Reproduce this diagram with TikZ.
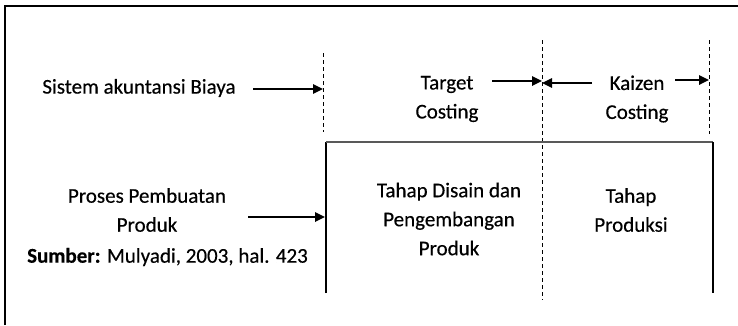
\documentclass[tikz,border=0pt]{standalone}
\usepackage{fontspec}
\setmainfont{Carlito}[FakeBold=0.35, BoldFeatures={FakeBold=0.35}]
\usetikzlibrary{arrows.meta}
\tikzset{
  lbl/.style={align=center, inner sep=0pt, font=\fontsize{21}{29}\selectfont},
  arr/.style={line width=1.7pt, -{Triangle[length=10pt,width=9.5pt]}},
  divider/.style={line width=0.9pt, dash pattern=on 4pt off 3pt},
  stage/.style={line width=1.2pt},
  frame/.style={line width=2.4pt}
}
\begin{document}
\begin{tikzpicture}[x=1pt,y=-1pt]
\useasboundingbox (0,0) rectangle (738,325);
% outer frame (top and left edges)
\draw[frame] (5,325) -- (5,6) -- (738,6);
% phase dividers
\coordinate (d1t) at (323,53);  \coordinate (d1b) at (323,132);
\coordinate (d2t) at (542,40);  \coordinate (d2b) at (542,300);
\coordinate (d3t) at (709,40);  \coordinate (d3b) at (709,134);
\draw[divider] (d1t) -- (d1b);
\draw[divider] (d2t) -- (d2b);
\draw[divider] (d3t) -- (d3b);
% stage box, open at the bottom
\coordinate (bl) at (326,293); \coordinate (tl) at (326,142);
\coordinate (tr) at (713,142); \coordinate (br) at (713,293);
\draw[stage] (bl) -- (tl);
\draw[stage, black!65] (tl) -- (tr);
\draw[stage] (tr) -- (br);
% labels
\node[lbl] (sab) at (139,88) {Sistem akuntansi Biaya};
\node[lbl] (tc) at (447,99) {Target\\Costing};
\node[lbl] (kc) at (637,99) {Kaizen\\Costing};
\node[lbl] (ppp) at (147,210) {Proses Pembuatan\\Produk};
\node[lbl, anchor=west] (src) at (27,257) {\textbf{Sumber:} Mulyadi, 2003, hal. 423};
\node[lbl] (tdp) at (449,219) {Tahap Disain dan\\Pengembangan\\Produk};
\node[lbl] (tp) at (631,210) {Tahap\\Produksi};
% arrows
\coordinate (a1s) at (253,89);  \coordinate (a1e) at (323,89);
\coordinate (a2s) at (492,81);  \coordinate (a2e) at (542,81);
\coordinate (a3s) at (592,83);  \coordinate (a3e) at (542,83);
\coordinate (a4s) at (675,80);  \coordinate (a4e) at (709,80);
\coordinate (a5s) at (248,217); \coordinate (a5e) at (325,217);
\draw[arr] (a1s) -- (a1e);
\draw[arr] (a2s) -- (a2e);
\draw[arr] (a3s) -- (a3e);
\draw[arr] (a4s) -- (a4e);
\draw[arr] (a5s) -- (a5e);
\end{tikzpicture}
\end{document}
